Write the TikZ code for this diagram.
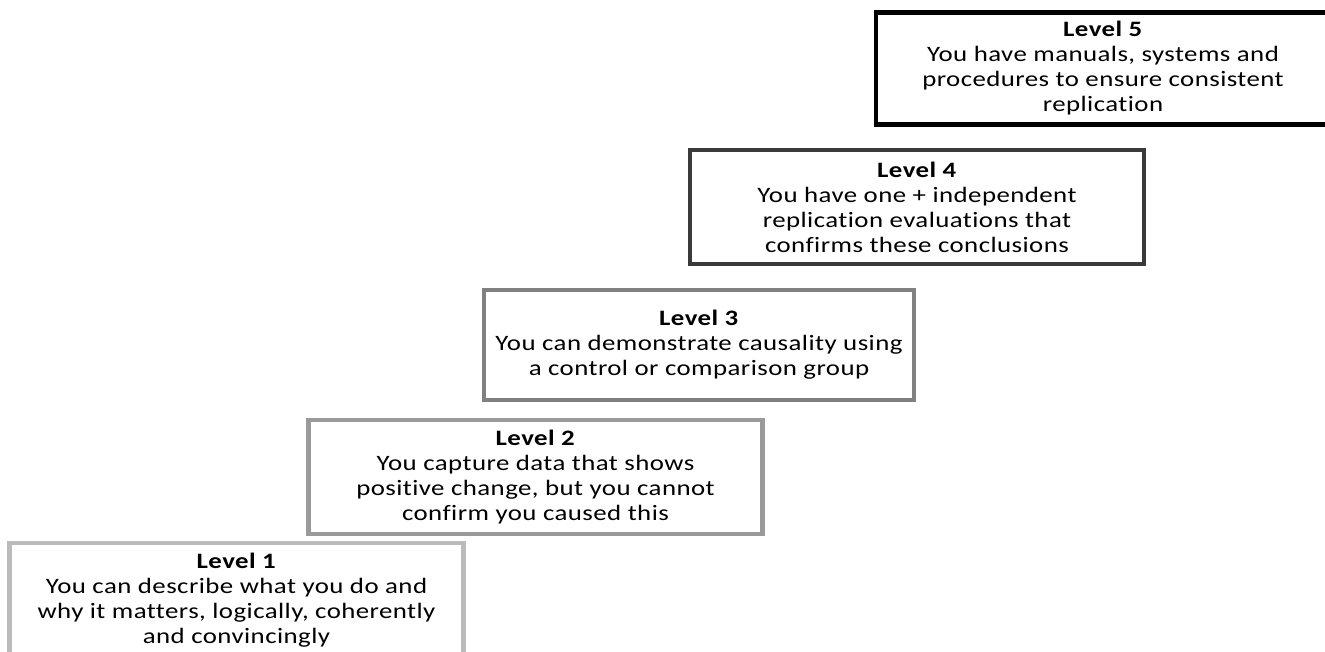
\documentclass[tikz,border=0pt]{standalone}
\usepackage{fontspec}
\setmainfont[FakeStretch=1.22, LetterSpace=2.0, Ligatures={NoCommon}]{Carlito}
\usetikzlibrary{positioning}
\definecolor{lvlfive}{HTML}{000000}
\definecolor{lvlfour}{HTML}{3A3A3A}
\definecolor{lvlthree}{HTML}{808080}
\definecolor{lvltwo}{HTML}{9A9A9A}
\definecolor{lvlone}{HTML}{BBBBBB}
\begin{document}
\begin{tikzpicture}[
            x=1pt, y=1pt,
            every node/.style={ align=center, font=\fontsize{22}{25}\selectfont },
            lvl/.style={ draw, line width=4.5pt, minimum width=454pt, minimum height=114pt, inner sep=0pt }
        ]
        \clip (0,0) rectangle (1325,652);

        \node[lvl, draw=lvlone]   (l1) at (236.5,52) {\textbf{Level 1}\\You can describe what you do and\\why it matters, logically, coherently\\and convincingly};
        \node[lvl, draw=lvltwo]   (l2) at (535.5,175) {\textbf{Level 2}\\You capture data that shows\\positive change, but you cannot\\confirm you caused this};
        \node[lvl, draw=lvlthree, minimum width=430pt, minimum height=110pt] (l3) at (699,307) {\textbf{Level 3}\\You can demonstrate causality using\\a control or comparison group};
        \node[lvl, draw=lvlfour]  (l4) at (917,445) {\textbf{Level 4}\\You have one + independent\\replication evaluations that\\confirms these conclusions};
        \node[lvl, draw=lvlfive, minimum height=112pt] (l5) at (1103,583.5) {\textbf{Level 5}\\You have manuals, systems and\\procedures to ensure consistent\\replication};
    \end{tikzpicture}
\end{document}
